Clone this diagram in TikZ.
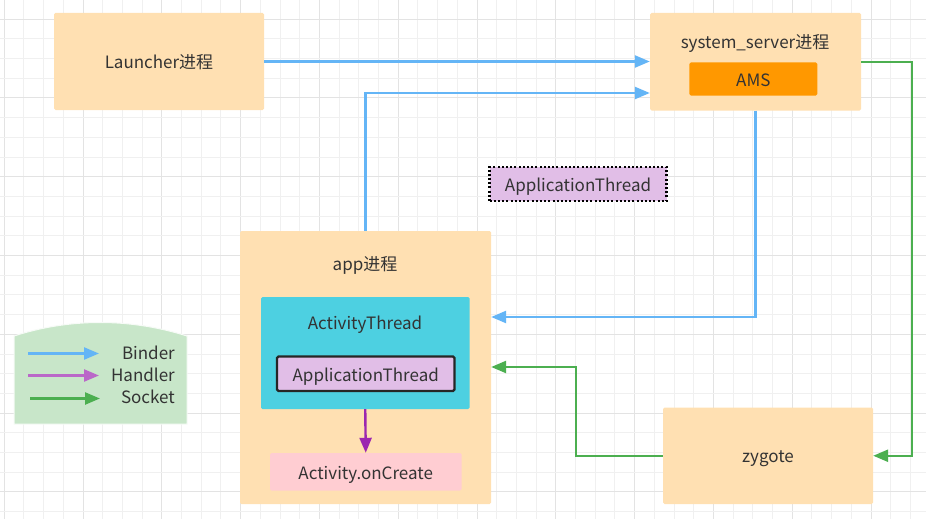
\documentclass[tikz,border=0pt]{standalone}
\usepackage{fontspec}
\setmainfont{Noto Sans CJK SC}
\usetikzlibrary{arrows.meta}
\definecolor{peach}{HTML}{FFE0B2}
\definecolor{amsorange}{HTML}{FF9800}
\definecolor{lav}{HTML}{E1BEE7}
\definecolor{cyanbox}{HTML}{4DD0E1}
\definecolor{pinkbox}{HTML}{FFCDD2}
\definecolor{legendgreen}{HTML}{C8E6C9}
\definecolor{binderblue}{HTML}{64B5F6}
\definecolor{socketgreen}{HTML}{4CAF50}
\definecolor{handlerpurple}{HTML}{9C27B0}
\definecolor{legendpurple}{HTML}{BA68C8}
\definecolor{txtgray}{HTML}{333333}
\definecolor{gridlight}{HTML}{F0F0F0}
\definecolor{griddark}{HTML}{E3E3E3}
\tikzset{
  box/.style={rectangle, rounded corners=1.5pt, inner sep=0pt, text=txtgray, font=\fontsize{17}{19}\selectfont, text height=18pt, text depth=3pt},
  peachbox/.style={box, fill=peach},
  txt/.style={inner sep=0pt, text=txtgray, font=\fontsize{17}{19}\selectfont},
  tip/.style={-{Triangle[length=15pt,width=12pt]}},
  binder/.style={tip, draw=binderblue, line width=2.4pt},
  socket/.style={tip, draw=socketgreen, line width=2.4pt},
  handler/.style={tip, draw=handlerpurple, line width=2.4pt},
}
\begin{document}
\begin{tikzpicture}[x=1pt,y=-1pt]
\useasboundingbox (0,0) rectangle (926,519);
\fill[white] (0,0) rectangle (926,519);
% grid
\foreach \k in {0,...,46}{
  \pgfmathsetmacro{\xx}{4.2+19.7*\k}
  \pgfmathtruncatemacro{\m}{mod(\k,4)}
  \ifnum\m=0 \draw[griddark, line width=1pt] (\xx,0) -- (\xx,519);
  \else \draw[gridlight, line width=1pt] (\xx,0) -- (\xx,519); \fi
}
\foreach \k in {1,...,26}{
  \pgfmathsetmacro{\yy}{-0.6+19.7*\k}
  \pgfmathtruncatemacro{\m}{mod(\k-1,4)}
  \ifnum\m=0 \draw[griddark, line width=1pt] (0,\yy) -- (926,\yy);
  \else \draw[gridlight, line width=1pt] (0,\yy) -- (926,\yy); \fi
}
% boxes
\node[peachbox, minimum width=210pt, minimum height=97pt] (launcher) at (159,61.5) {Launcher进程};
\node[peachbox, minimum width=211pt, minimum height=97.5pt, text height=0pt, text depth=0pt] (ss) at (755.5,61.75) {};
\node[txt] (sslabel) at (755,43) {system\_server进程};
\node[box, fill=amsorange, minimum width=128pt, minimum height=33pt] (ams) at (753.3,79) {AMS};
\node[box, rounded corners=0pt, fill=lav, draw=black, line width=2.3pt, dash pattern=on 2pt off 2.2pt, minimum width=177pt, minimum height=34pt] (atfloat) at (578,184) {ApplicationThread};
\node[peachbox, minimum width=251pt, minimum height=273pt, text height=0pt, text depth=0pt] (app) at (365.5,367.5) {};
\node[txt] (applabel) at (365,265) {app进程};
\node[box, fill=cyanbox, minimum width=208.5pt, minimum height=112pt, text height=0pt, text depth=0pt] (actthread) at (365.25,353) {};
\node[txt] (actlabel) at (365,325) {ActivityThread};
\node[box, fill=lav, draw=black!85, line width=2.4pt, minimum width=177.5pt, minimum height=34.5pt] (atinner) at (365.75,373.75) {ApplicationThread};
\node[box, fill=pinkbox, minimum width=191.5pt, minimum height=37.5pt] (oncreate) at (365.75,471.75) {Activity.onCreate};
\node[peachbox, minimum width=210pt, minimum height=96.5pt, text height=16.5pt] (zygote) at (768,455.75) {zygote};
% legend
\draw[fill=legendgreen, draw=white!85!legendgreen, line width=1pt] (14,336) .. controls (70,318) and (130,318) .. (187,336) -- (187,424) -- (14,424) -- cycle;
\coordinate (lb1) at (28,353.5);
\coordinate (lb2) at (99,353.5);
\coordinate (lh1) at (28,375.5);
\coordinate (lh2) at (99,375.5);
\coordinate (ls1) at (30,398.5);
\coordinate (ls2) at (100,398.5);
\draw[binder] (lb1) -- (lb2);
\draw[tip, draw=legendpurple, line width=2.4pt] (lh1) -- (lh2);
\draw[socket] (ls1) -- (ls2);
\node[txt, anchor=east] (lbt) at (175,353) {Binder};
\node[txt, anchor=east] (lht) at (175,375) {Handler};
\node[txt, anchor=east] (lst) at (175,397) {Socket};
% connectors
\draw[binder] (launcher.east) -- (launcher.east -| ss.west);
\draw[binder] (app.north) |- (ss.west |- 0,93);
\draw[binder] (ss.south) |- (app.east |- 0,317);
\draw[socket] (ss.east) -| (zygote.east -| 912,0) -- (zygote.east);
\draw[socket] (zygote.west) -| (576,367) -- (app.east |- 0,367);
\draw[handler] (actthread.south) -- (oncreate.north);
\end{tikzpicture}
\end{document}
